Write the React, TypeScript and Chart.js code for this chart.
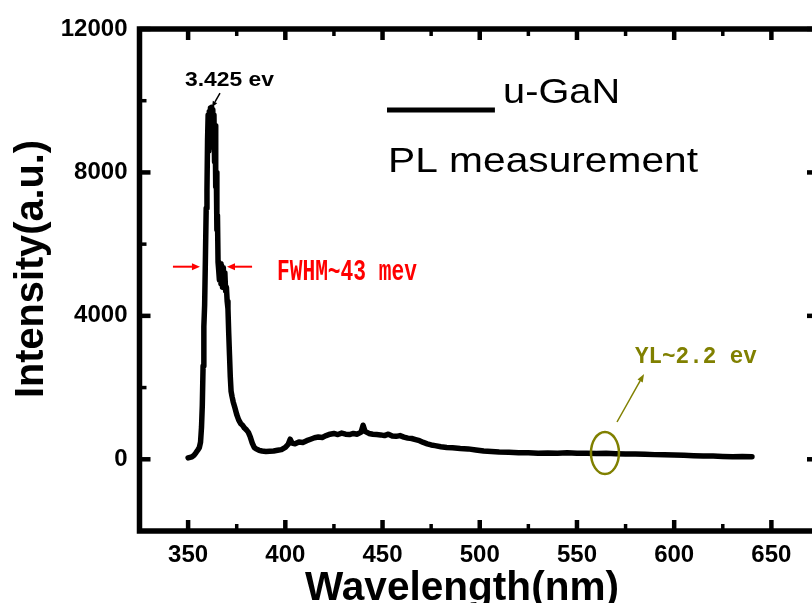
import React, { useEffect, useRef } from "react";
import { Chart, registerables } from "chart.js";

Chart.register(...registerables);

// ---- data ----
const wavelengthNm = [
  350.0, 351.0, 352.0, 353.0, 354.0, 355.0, 355.8, 356.4, 356.9, 357.3,
  357.7, 358.1, 358.5, 358.9, 359.3, 359.7, 360.0, 360.3, 360.6, 360.9,
  361.2, 361.5, 361.8, 362.1, 362.4, 362.7, 363.0, 363.3, 363.6, 363.9,
  364.2, 364.5, 364.8, 365.1, 365.4, 365.7, 366.1, 366.5, 366.9, 367.3,
  367.7, 368.1, 368.5, 368.9, 369.3, 369.7, 370.1, 370.5, 370.9, 371.3,
  371.7, 372.1, 372.6, 373.2, 374.0,
  375.0, 376.0, 377.0, 378.0, 379.0, 380.0, 381.0, 382.0, 383.0, 384.0,
  385.0, 386.5, 388.0, 390.0, 392.0, 394.0, 396.0, 398.0, 400.0, 401.5,
  402.5, 403.5, 405.0, 407.0, 409.0, 411.0, 413.0, 415.0, 417.0, 419.0,
  421.0, 423.0, 425.0, 427.0, 429.0, 431.0, 433.0, 435.0, 437.0, 439.0,
  440.0, 441.0, 443.0, 445.0, 447.0, 449.0, 451.0, 453.0, 455.0, 457.0,
  459.0, 461.0, 463.0, 465.0, 467.0, 469.0, 471.0, 473.0, 475.0, 477.0,
  480.0, 483.0, 486.0, 490.0, 494.0, 498.0, 502.0, 506.0, 510.0, 515.0,
  520.0, 525.0, 530.0, 535.0, 540.0, 545.0, 550.0, 555.0, 560.0, 565.0,
  570.0, 575.0, 580.0, 585.0, 590.0, 595.0, 600.0, 605.0, 610.0, 615.0,
  620.0, 625.0, 630.0, 635.0, 640.0,
];
const intensityAU = [
  40, 55, 70, 110, 180, 260, 330, 480, 900, 1500,
  2600, 3700, 4300, 5600, 7000, 7500, 8900, 9600, 8600, 9700,
  8800, 9800, 9000, 9820, 8900, 9750, 8700, 9600, 8300, 9300,
  7600, 8000, 6400, 6800, 5500, 5300, 5000, 5450, 4900, 5400,
  4800, 5350, 4800, 5200, 4700, 4800, 4400, 4200, 3500, 2900,
  2300, 1900, 1750, 1600, 1450,
  1250, 1100, 1000, 950, 870, 820, 750, 620, 450, 330,
  290, 250, 230, 220, 225, 230, 250, 270, 330, 420,
  560, 450, 430, 480, 470, 520, 560, 600, 620, 610,
  660, 700, 720, 690, 730, 700, 690, 720, 700, 760,
  950, 780, 720, 700, 690, 680, 660, 700, 650, 640,
  660, 620, 590, 580, 550, 520, 470, 430, 400, 380,
  350, 330, 320, 300, 290, 260, 230, 215, 200, 195,
  180, 185, 170, 175, 170, 180, 165, 170, 160, 165,
  155, 150, 150, 140, 130, 125, 120, 110, 100, 95,
  90, 80, 70, 75, 70,
];
const xTickValues = [350, 400, 450, 500, 550, 600, 650];
const xMinorValues = [375, 425, 475, 525, 575, 625];
const yTickValues = [0, 4000, 8000, 12000];
const yMinorValues = [2000, 6000, 10000];
const xRange = [325, 675];
const yRange = [-2000, 12000];

const seriesLabel = "u-GaN";
const subtitleLabel = "PL measurement";
const peakLabel = "3.425 ev";
const fwhmLabel = "FWHM~43 mev";
const ylLabel = "YL~2.2 ev";
const xTitle = "Wavelength(nm)";
const yTitle = "Intensity(a.u.)";

const SANS = '"Liberation Sans", Arial, Helvetica, sans-serif';
const MONO = '"Liberation Mono", "Courier New", monospace';

function fitText(
  ctx: CanvasRenderingContext2D,
  text: string,
  x: number,
  y: number,
  width: number,
  font: string,
  color: string,
  align: CanvasTextAlign = "left",
  rotation = 0
) {
  ctx.save();
  ctx.font = font;
  const natural = ctx.measureText(text).width || 1;
  ctx.translate(x, y);
  if (rotation) ctx.rotate(rotation);
  ctx.scale(width / natural, 1);
  ctx.textAlign = align;
  ctx.textBaseline = "alphabetic";
  ctx.fillStyle = color;
  ctx.fillText(text, 0, 0);
  ctx.restore();
}

function arrow(
  ctx: CanvasRenderingContext2D,
  x1: number,
  y1: number,
  x2: number,
  y2: number,
  color: string,
  lw: number,
  headLen: number,
  headHalf: number
) {
  const ang = Math.atan2(y2 - y1, x2 - x1);
  const bx = x2 - headLen * Math.cos(ang);
  const by = y2 - headLen * Math.sin(ang);
  ctx.save();
  ctx.strokeStyle = color;
  ctx.fillStyle = color;
  ctx.lineWidth = lw;
  ctx.beginPath();
  ctx.moveTo(x1, y1);
  ctx.lineTo(bx, by);
  ctx.stroke();
  ctx.beginPath();
  ctx.moveTo(x2, y2);
  ctx.lineTo(bx + headHalf * Math.sin(ang), by - headHalf * Math.cos(ang));
  ctx.lineTo(bx - headHalf * Math.sin(ang), by + headHalf * Math.cos(ang));
  ctx.closePath();
  ctx.fill();
  ctx.restore();
}

const framePlugin = {
  id: "originFrame",
  afterDraw(chart: any) {
    const { ctx, chartArea: ca, scales } = chart;
    const xs = scales.x;
    const ys = scales.y;
    const X = (v: number) => xs.getPixelForValue(v);
    const Y = (v: number) => ys.getPixelForValue(v);

    ctx.save();
    ctx.strokeStyle = "#000";
    ctx.lineCap = "butt";
    const seg = (x1: number, y1: number, x2: number, y2: number, w: number) => {
      ctx.lineWidth = w;
      ctx.beginPath();
      ctx.moveTo(x1, y1);
      ctx.lineTo(x2, y2);
      ctx.stroke();
    };
    // inward ticks, all four sides
    xTickValues.forEach((v) => {
      const p = X(v);
      seg(p, ca.bottom, p, ca.bottom - 11, 4.5);
      seg(p, ca.top, p, ca.top + 11, 4.5);
    });
    xMinorValues.forEach((v) => {
      const p = X(v);
      seg(p, ca.bottom, p, ca.bottom - 7, 3.5);
      seg(p, ca.top, p, ca.top + 7, 3.5);
    });
    yTickValues.forEach((v) => {
      const p = Y(v);
      seg(ca.left, p, ca.left + 11, p, 4.5);
      seg(ca.right, p, ca.right - 13, p, 4.5);
    });
    yMinorValues.forEach((v) => {
      const p = Y(v);
      seg(ca.left, p, ca.left + 7, p, 3.5);
      seg(ca.right, p, ca.right - 7, p, 3.5);
    });
    // frame
    ctx.lineWidth = 5.5;
    ctx.lineJoin = "miter";
    ctx.strokeRect(ca.left, ca.top, ca.right - ca.left, ca.bottom - ca.top);
    ctx.restore();

    // axis titles
    fitText(ctx, xTitle, 462, 600, 314, `bold 40px ${SANS}`, "#000", "center");
    fitText(ctx, yTitle, 43, 269, 258, `bold 40px ${SANS}`, "#000", "center", -Math.PI / 2);

    // legend
    ctx.save();
    ctx.strokeStyle = "#000";
    ctx.lineWidth = 5;
    ctx.beginPath();
    ctx.moveTo(X(452.3), Y(9740));
    ctx.lineTo(X(507.8), Y(9740));
    ctx.stroke();
    ctx.restore();
    fitText(ctx, seriesLabel, X(512.0), Y(9935), 117, `35px ${SANS}`, "#000");
    fitText(ctx, subtitleLabel, X(452.8), Y(8012), 310, `35px ${SANS}`, "#000");

    // peak annotation
    fitText(ctx, peakLabel, X(348.4), Y(10410), 89, `bold 20px ${SANS}`, "#000");
    arrow(ctx, X(366.4), Y(10210), X(362.3), Y(9820), "#000", 1.5, 6, 2.5);

    // FWHM annotation
    arrow(ctx, X(342.2), Y(5371), X(356.1), Y(5371), "#ff0000", 2, 8, 3.5);
    arrow(ctx, X(382.9), Y(5371), X(370.0), Y(5371), "#ff0000", 2, 8, 3.5);
    fitText(ctx, fwhmLabel, X(395.7), Y(4998), 140, `bold 29px ${MONO}`, "#ff0000");

    // yellow luminescence annotation
    const olive = "#808000";
    fitText(ctx, ylLabel, X(579.8), Y(2685), 122, `bold 24px ${MONO}`, olive);
    arrow(ctx, X(570.6), Y(1040), X(584.5), Y(2379), olive, 1.5, 8, 3);
    ctx.save();
    ctx.strokeStyle = olive;
    ctx.lineWidth = 2.5;
    ctx.beginPath();
    ctx.ellipse(X(564.4), Y(176), 14, 21, 0, 0, Math.PI * 2);
    ctx.stroke();
    ctx.restore();
  },
};

export default function App() {
  const ref = useRef<HTMLCanvasElement>(null);

  useEffect(() => {
    const canvas = ref.current;
    if (!canvas) return;
    const points = wavelengthNm.map((w, i) => ({ x: w, y: intensityAU[i] }));
    const tickFont = { family: SANS, size: 24, weight: "bold" as const };
    const chart = new Chart(canvas, {
      type: "line",
      data: {
        datasets: [
          {
            label: seriesLabel,
            data: points,
            borderColor: "#000",
            backgroundColor: "#000",
            borderWidth: 5.5,
            pointRadius: 0,
            tension: 0,
            borderJoinStyle: "round",
            borderCapStyle: "round",
          },
        ],
      },
      options: {
        animation: false,
        responsive: false,
        maintainAspectRatio: false,
        devicePixelRatio: 1,
        layout: { padding: { top: 29, right: 10, left: 0, bottom: 0 } },
        plugins: { legend: { display: false }, tooltip: { enabled: false } },
        scales: {
          x: {
            type: "linear",
            min: xRange[0],
            max: xRange[1],
            grid: { display: false, drawTicks: false },
            border: { display: false },
            ticks: {
              font: tickFont,
              color: "#000",
              padding: 10,
              maxRotation: 0,
              callback: (v: any) => String(v),
            },
            afterBuildTicks: (s: any) => {
              s.ticks = xTickValues.map((v) => ({ value: v }));
            },
            afterFit: (s: any) => {
              s.height = 72;
            },
          },
          y: {
            type: "linear",
            min: yRange[0],
            max: yRange[1],
            grid: { display: false, drawTicks: false },
            border: { display: false },
            ticks: {
              font: tickFont,
              color: "#000",
              padding: 12,
              callback: (v: any) => String(v),
            },
            afterBuildTicks: (s: any) => {
              s.ticks = yTickValues.map((v) => ({ value: v }));
            },
            afterFit: (s: any) => {
              s.width = 139.5;
            },
          },
        },
      },
      plugins: [framePlugin],
    } as any);
    return () => chart.destroy();
  }, []);

  return (
    <div
      style={{
        position: "absolute",
        left: 0,
        top: 0,
        width: 812,
        height: 603,
        overflow: "hidden",
        background: "#fff",
      }}
    >
      <canvas ref={ref} width={830} height={603} style={{ display: "block", width: 830, height: 603 }} />
    </div>
  );
}
